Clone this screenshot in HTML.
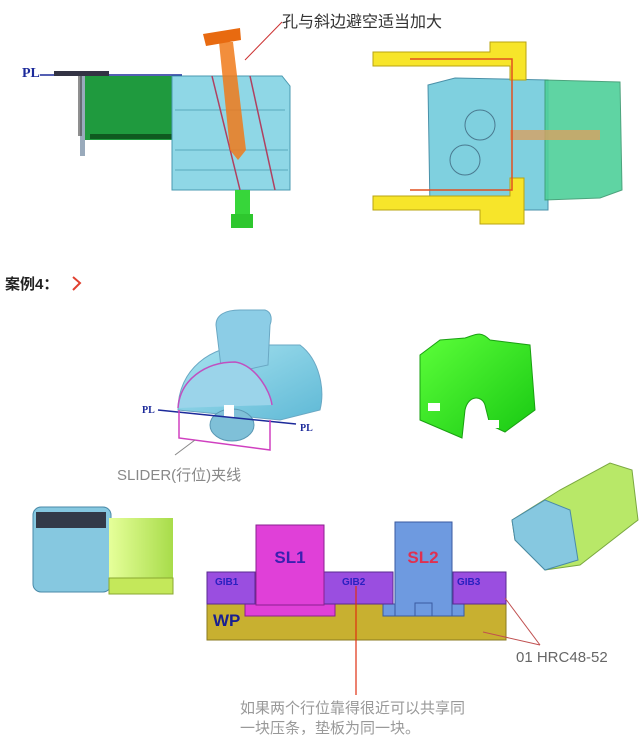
<!DOCTYPE html>
<html><head><meta charset="utf-8"><style>
html,body{margin:0;padding:0;background:#fff;width:641px;height:745px;overflow:hidden}
svg{display:block}
.cn{font-family:"Liberation Sans","Noto Sans CJK SC",sans-serif}
</style></head><body>
<svg width="641" height="745" viewBox="0 0 641 745" xmlns="http://www.w3.org/2000/svg">
<defs>
<linearGradient id="blu" x1="0" y1="0" x2="1" y2="1"><stop offset="0" stop-color="#a9e3f0"/><stop offset="1" stop-color="#5fb9d6"/></linearGradient>
<linearGradient id="grn" x1="0" y1="0" x2="1" y2="1"><stop offset="0" stop-color="#5dff3a"/><stop offset="1" stop-color="#17c812"/></linearGradient>
<linearGradient id="lg" x1="0" y1="0" x2="1" y2="0"><stop offset="0" stop-color="#e6ff9a"/><stop offset="1" stop-color="#a8dc4a"/></linearGradient>
</defs>

<!-- TOP LEFT -->
<text x="22" y="77" font-family="Liberation Serif,serif" font-size="14" font-weight="bold" fill="#1c2a9a">PL</text>
<line x1="40" y1="75" x2="182" y2="75" stroke="#1c2a9a" stroke-width="1.5"/>
<rect x="54" y="71" width="55" height="5" fill="#334"/>
<rect x="80" y="76" width="5" height="80" fill="#9ab"/>
<rect x="78" y="76" width="4" height="60" fill="#444" opacity=".6"/>
<rect x="85" y="76" width="92" height="64" fill="#1f9a3e"/>
<rect x="90" y="134" width="88" height="5" fill="#0f5a20"/>
<path d="M172 76 L282 76 L290 86 L290 190 L172 190 Z" fill="#8fd7e6" stroke="#4a9ab0"/>
<path d="M175 110 L285 110 M175 150 L288 150 M175 170 L288 170" stroke="#5aa8bc"/>
<line x1="212" y1="76" x2="240" y2="190" stroke="#b04060" stroke-width="1.5"/>
<line x1="250" y1="76" x2="275" y2="190" stroke="#b04060" stroke-width="1.5"/>
<path d="M219 42 L233 42 L246 150 L238 160 L230 150 Z" fill="#f07a1a" opacity=".85"/>
<path d="M203 34 L240 28 L241 40 L206 46 Z" fill="#e86a10"/>
<rect x="235" y="190" width="15" height="28" fill="#37d63a"/>
<rect x="231" y="214" width="22" height="14" fill="#2ec72e"/>
<line x1="282" y1="22" x2="245" y2="60" stroke="#c33" stroke-width="1"/>
<text x="282" y="27" class="cn" font-size="16" fill="#333">孔与斜边避空适当加大</text>

<!-- TOP RIGHT -->
<path d="M428 85 L455 78 L548 80 L548 210 L430 210 Z" fill="#7fd0df" stroke="#4a90a8"/>
<path d="M545 80 L620 82 L622 190 L600 198 L545 200 Z" fill="#4ed09a" opacity=".9" stroke="#3a9a70"/>
<circle cx="480" cy="125" r="15" fill="none" stroke="#4a7a90"/>
<circle cx="465" cy="160" r="15" fill="none" stroke="#4a7a90"/>
<rect x="510" y="130" width="90" height="10" fill="#d9a060" opacity=".8"/>
<path d="M373 52 L490 52 L490 42 L526 42 L526 80 L510 80 L510 66 L373 66 Z" fill="#f7e52a" stroke="#b9a412"/>
<path d="M373 196 L510 196 L510 178 L524 178 L524 224 L480 224 L480 210 L373 210 Z" fill="#f7e52a" stroke="#b9a412"/>
<path d="M410 59 L512 59 L512 190 L410 190" fill="none" stroke="#e05020" stroke-width="1.5"/>

<!-- Case 4 -->
<text x="5" y="289" class="cn" font-size="15" font-weight="bold" fill="#222">案例4：</text>
<path d="M73 277 L80 283 L73 290" fill="none" stroke="#e04030" stroke-width="2"/>

<!-- slider object -->
<path d="M178 410 C178 370 210 345 250 345 L300 345 C320 360 325 390 320 410 L280 420 Z" fill="url(#blu)" stroke="#6aa8c4"/>
<path d="M216 325 C216 315 225 310 240 310 L265 310 C272 312 272 320 270 325 L268 365 L222 375 Z" fill="#8ccde6" stroke="#6aa8c4"/>
<path d="M178 408 C180 380 205 362 235 362 C255 365 270 390 272 405" fill="#9bd4ea" stroke="#c050c0" stroke-width="1.5"/>
<ellipse cx="232" cy="425" rx="22" ry="16" fill="#7fc0d8" stroke="#5a98b4"/>
<rect x="224" y="405" width="10" height="12" fill="#fff"/>
<text x="142" y="413" font-family="Liberation Serif,serif" font-size="10" font-weight="bold" fill="#1c2a9a">PL</text>
<line x1="160" y1="443" x2="160" y2="443"/>
<line x1="160" y1="443" x2="160" y2="443"/>
<line x1="159" y1="444" x2="159" y2="444"/>
<line x1="160" y1="445" x2="160" y2="445"/>
<line x1="162" y1="446" x2="162" y2="446"/>
<line x1="160" y1="445" x2="160" y2="445"/>
<line x1="160" y1="445" x2="160" y2="445"/>
<line x1="160" y1="445" x2="160" y2="445"/>
<line x1="158" y1="410" x2="296" y2="424" stroke="#1c2a9a" stroke-width="1.5"/>
<text x="300" y="431" font-family="Liberation Serif,serif" font-size="10" font-weight="bold" fill="#1c2a9a">PL</text>
<path d="M179 410 L179 438 L270 450 L270 420" fill="none" stroke="#d040c0" stroke-width="1.5"/>
<line x1="175" y1="455" x2="195" y2="440" stroke="#888"/>
<text x="117" y="480" class="cn" font-size="15" fill="#888">SLIDER(行位)夹线</text>

<!-- green object -->
<path d="M420 355 L440 340 L465 338 C475 335 480 330 490 340 L530 345 L535 410 L505 432 L490 425 L485 405 C482 395 468 395 465 410 L462 438 L420 420 Z" fill="url(#grn)" stroke="#1aa012"/>
<rect x="428" y="403" width="12" height="8" fill="#fff"/>
<rect x="487" y="420" width="12" height="8" fill="#fff"/>

<!-- bottom-left object -->
<rect x="33" y="507" width="78" height="85" rx="8" fill="#86c8e0" stroke="#4a8aa8"/>
<rect x="36" y="512" width="70" height="16" fill="#333a48"/>
<rect x="109" y="518" width="64" height="60" fill="url(#lg)"/>
<rect x="109" y="578" width="64" height="16" fill="#c4e85a" stroke="#8aa830"/>

<!-- bottom-right object -->
<path d="M512 520 L560 490 L610 463 L632 470 L638 520 L580 565 L545 570 L515 540 Z" fill="#b8e868" stroke="#7aa840"/>
<path d="M512 520 L545 500 L570 510 L578 560 L545 570 L515 540 Z" fill="#86c8e0" stroke="#4a8aa8"/>

<!-- GIB diagram -->
<rect x="207" y="604" width="299" height="36" fill="#c8b030" stroke="#8a7a20"/>
<rect x="245" y="604" width="90" height="12" fill="#e040d8" stroke="#8a2090"/>
<rect x="383" y="604" width="81" height="12" fill="#6e9ae0" stroke="#3a5aa0"/>
<rect x="207" y="572" width="48" height="32" fill="#9a4ee0" stroke="#5a2a90"/>
<rect x="324" y="572" width="69" height="32" fill="#9a4ee0" stroke="#5a2a90"/>
<rect x="453" y="572" width="53" height="32" fill="#9a4ee0" stroke="#5a2a90"/>
<rect x="256" y="525" width="68" height="80" fill="#e040d8" stroke="#8a2090"/>
<rect x="395" y="522" width="57" height="94" fill="#6e9ae0" stroke="#3a5aa0"/>
<rect x="415" y="603" width="17" height="13" fill="none" stroke="#3a5aa0"/>
<text x="290" y="563" text-anchor="middle" font-family="Liberation Sans,sans-serif" font-size="17" font-weight="bold" fill="#3a20b0">SL1</text>
<text x="423" y="563" text-anchor="middle" font-family="Liberation Sans,sans-serif" font-size="17" font-weight="bold" fill="#e03050">SL2</text>
<g font-family="Liberation Sans,sans-serif" font-size="10" font-weight="bold" fill="#2a20c0">
<text x="215" y="585">GIB1</text><text x="342" y="585">GIB2</text><text x="457" y="585">GIB3</text></g>
<text x="213" y="626" font-family="Liberation Sans,sans-serif" font-size="17" font-weight="bold" fill="#1a2090">WP</text>
<line x1="356" y1="586" x2="356" y2="695" stroke="#e03010" stroke-width="1.2"/>
<line x1="505" y1="598" x2="540" y2="645" stroke="#c05050"/>
<line x1="483" y1="632" x2="540" y2="645" stroke="#c05050"/>
<text x="516" y="662" font-family="Liberation Sans,sans-serif" font-size="15" fill="#666">01 HRC48-52</text>
<text x="240" y="713" class="cn" font-size="15" fill="#999">如果两个行位靠得很近可以共享同</text>
<text x="240" y="733" class="cn" font-size="15" fill="#999">一块压条，垫板为同一块。</text>
</svg>
</body></html>
